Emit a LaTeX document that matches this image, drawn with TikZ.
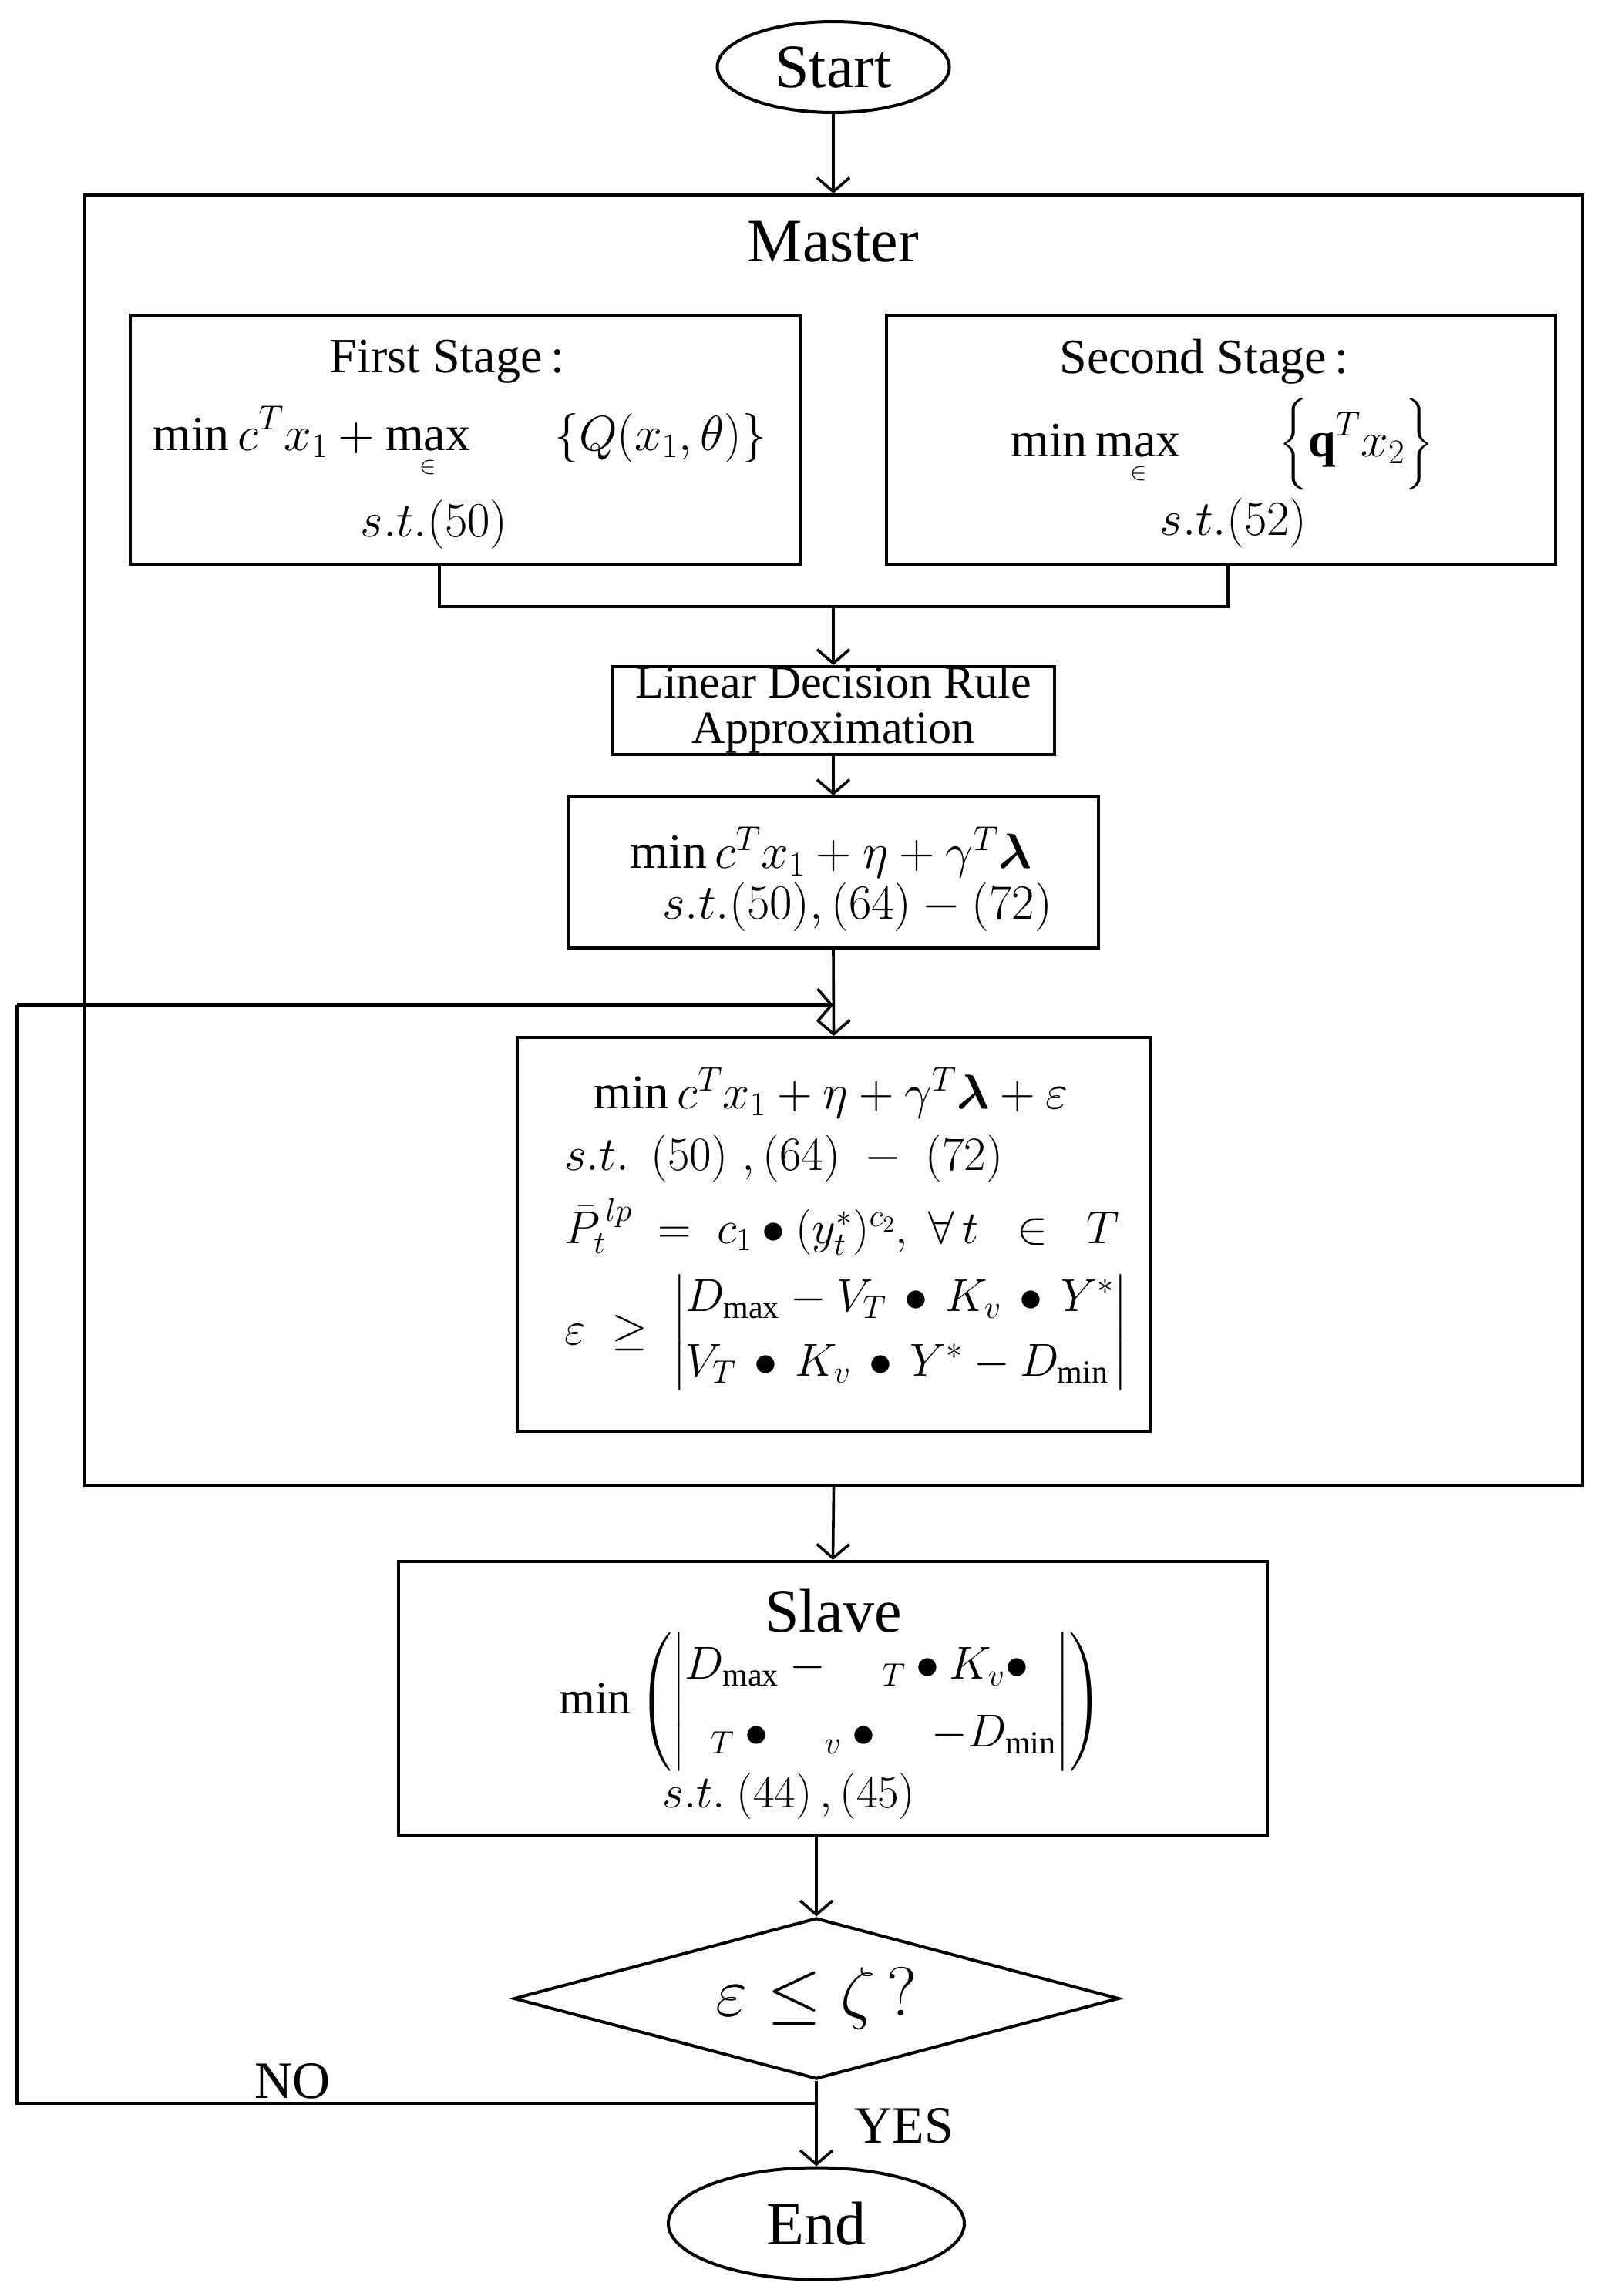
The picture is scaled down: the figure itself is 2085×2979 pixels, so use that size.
\RequirePackage{fix-cm}
\documentclass[tikz,border=0pt]{standalone}
\usepackage{amsmath}
\usepackage{fontspec}
\setmainfont{Liberation Serif}
\usetikzlibrary{arrows.meta,shapes.geometric}
\tikzset{
  box/.style={draw, line width=2pt, rectangle, inner sep=0pt},
  oval/.style={draw, line width=2pt, ellipse, inner sep=0pt, font=\fontsize{40}{48}\selectfont},
  txt/.style={inner sep=0pt, font=\fontsize{30}{36}\selectfont},
  txtb/.style={inner sep=0pt, font=\fontsize{32}{38}\selectfont},
  big/.style={inner sep=0pt, font=\fontsize{40}{48}\selectfont},
  lbl/.style={inner sep=0pt, font=\fontsize{34}{40}\selectfont},
  conn/.style={line width=1.8pt},
  arr/.style={line width=1.8pt, -{Straight Barb[length=9pt,width=21pt]}}
}
\begin{document}
\begin{tikzpicture}[x=0.5pt,y=-0.5pt]
\useasboundingbox (0,0) rectangle (2085,2979);

% shapes
\node[oval, minimum width=150.5pt, minimum height=59pt] (start) at (1081,87) {Start};
\node[box, minimum width=971.5pt, minimum height=837pt] (master) at (1081.5,1090) {};
\node[big] (mlabel) at (1081,314) {Master};

\node[box, minimum width=434.5pt, minimum height=161.5pt] (first) at (603.5,570.5) {};
\node[box, minimum width=434pt, minimum height=161.5pt] (second) at (1584,570.5) {};

\node[txtb] (ftitle) at (580,469) {First Stage\,:};
\node[txtb, anchor=west] (fmath) at (198,574) {$\displaystyle \min c^{T}x_1+\max_{\scriptscriptstyle\in}\hspace{1.7em}\{Q(x_1,\theta)\}$};
\node[txtb] (fst) at (563,680) {$s.t.(50)$};

\node[txtb] (stitle) at (1562,469) {Second Stage\,:};
\node[txtb, anchor=west] (smath) at (1311,576) {$\displaystyle \min\max_{\scriptscriptstyle\in}\qquad\Bigl\{\mathbf{q}^{T}x_2\Bigr\}$};
\node[txtb] (sst) at (1600,678) {$s.t.(52)$};

\node[box, minimum width=287pt, minimum height=57pt] (ldr) at (1081,922) {};
\node[txt, align=center, font=\fontsize{30}{29.5}\selectfont] (ldrt) at (1081,921) {Linear Decision Rule\\Approximation};

\node[box, minimum width=344pt, minimum height=98pt] (b3) at (1081,1132) {};
\node[txtb] (b3a) at (1078,1106) {$\min c^{T}x_1+\eta+\gamma^{T}\boldsymbol{\lambda}$};
\node[txtb, anchor=west] (b3b) at (859,1176) {$s.t.(50),(64)-(72)$};

\node[box, minimum width=410.5pt, minimum height=255.5pt] (b4) at (1081.5,1601.5) {};
\node[txt, font=\fontsize{31.5}{36}\selectfont] (b4a) at (1078,1418) {$\min c^{T}x_1+\eta+\gamma^{T}\boldsymbol{\lambda}+\varepsilon$};
\node[txt, anchor=west, font=\fontsize{31}{36}\selectfont] (b4b) at (732,1503) {$s.t.\;\,(50)\;,(64)\;-\;(72)$};
\node[txt, anchor=west] (b4c) at (732,1592) {$\bar{P}_{t}^{\,lp}\;=\;c_1\bullet(y_{t}^{*})^{c_2},\;\forall\, t\;\;\in\;\;T$};
\node[txt, anchor=west] (b4d) at (732,1729) {$\varepsilon\;\geq\;\left|\begin{array}{@{}l@{}}D_{\max}-V_T\,\bullet\,K_v\,\bullet\,Y^{*}\\[6pt] V_T\,\bullet\,K_v\,\bullet\,Y^{*}-D_{\min}\end{array}\right|$};

\node[box, minimum width=563.5pt, minimum height=177.5pt] (slave) at (1080.5,2203.5) {};
\node[big] (slt) at (1081,2090) {Slave};
\node[txt] (slm) at (1078,2208) {$\min\left(\left|\begin{array}{@{}l@{}}D_{\max}-\quad{}_{T}\bullet K_v\bullet\\[8pt] \;\;{}_{T}\bullet\quad{}_{v}\bullet\quad-D_{\min}\end{array}\right|\right)$};
\node[txt, anchor=west] (slst) at (859,2330) {$s.t.\ (44)\,,(45)$};

\node[diamond, draw, line width=2pt, aspect=3.75, minimum width=392.5pt, minimum height=104.5pt, inner sep=0pt, font=\fontsize{45}{50}\selectfont] (dia) at (1059,2593) {$\varepsilon\leq\zeta\,?$};

\node[oval, minimum width=192pt, minimum height=72.5pt] (end) at (1059,2885) {End};

\node[lbl] (no) at (380,2700) {NO};
\node[lbl] (yes) at (1173,2758) {YES};

% coordinates
\coordinate (m1) at (570,787);
\coordinate (m2) at (1593,787);
\coordinate (mc) at (1081,787);
\coordinate (fbl) at (22,2729);
\coordinate (fbt) at (22,1304);
\coordinate (fbj) at (1081,1304);

% connectors
\draw[arr] (start.south) -- (start.south |- master.north);
\draw[conn] (m1 |- first.south) -- (m1) -- (m2) -- (m2 |- second.south);
\draw[arr] (mc) -- (ldr.north);
\draw[arr] (ldr.south) -- (b3.north);
\draw[arr] (b3.south) -- (b4.north);
\draw[conn] (dia.south) -- (dia.south |- fbl) -- (fbl) -- (fbt);
\draw[arr] (fbt) -- (fbj);
\draw[arr] (master.south) -- (slave.north);
\draw[arr] (dia.north |- slave.south) -- (dia.north);
\draw[arr] (dia.south) -- (end.north);
\end{tikzpicture}
\end{document}
